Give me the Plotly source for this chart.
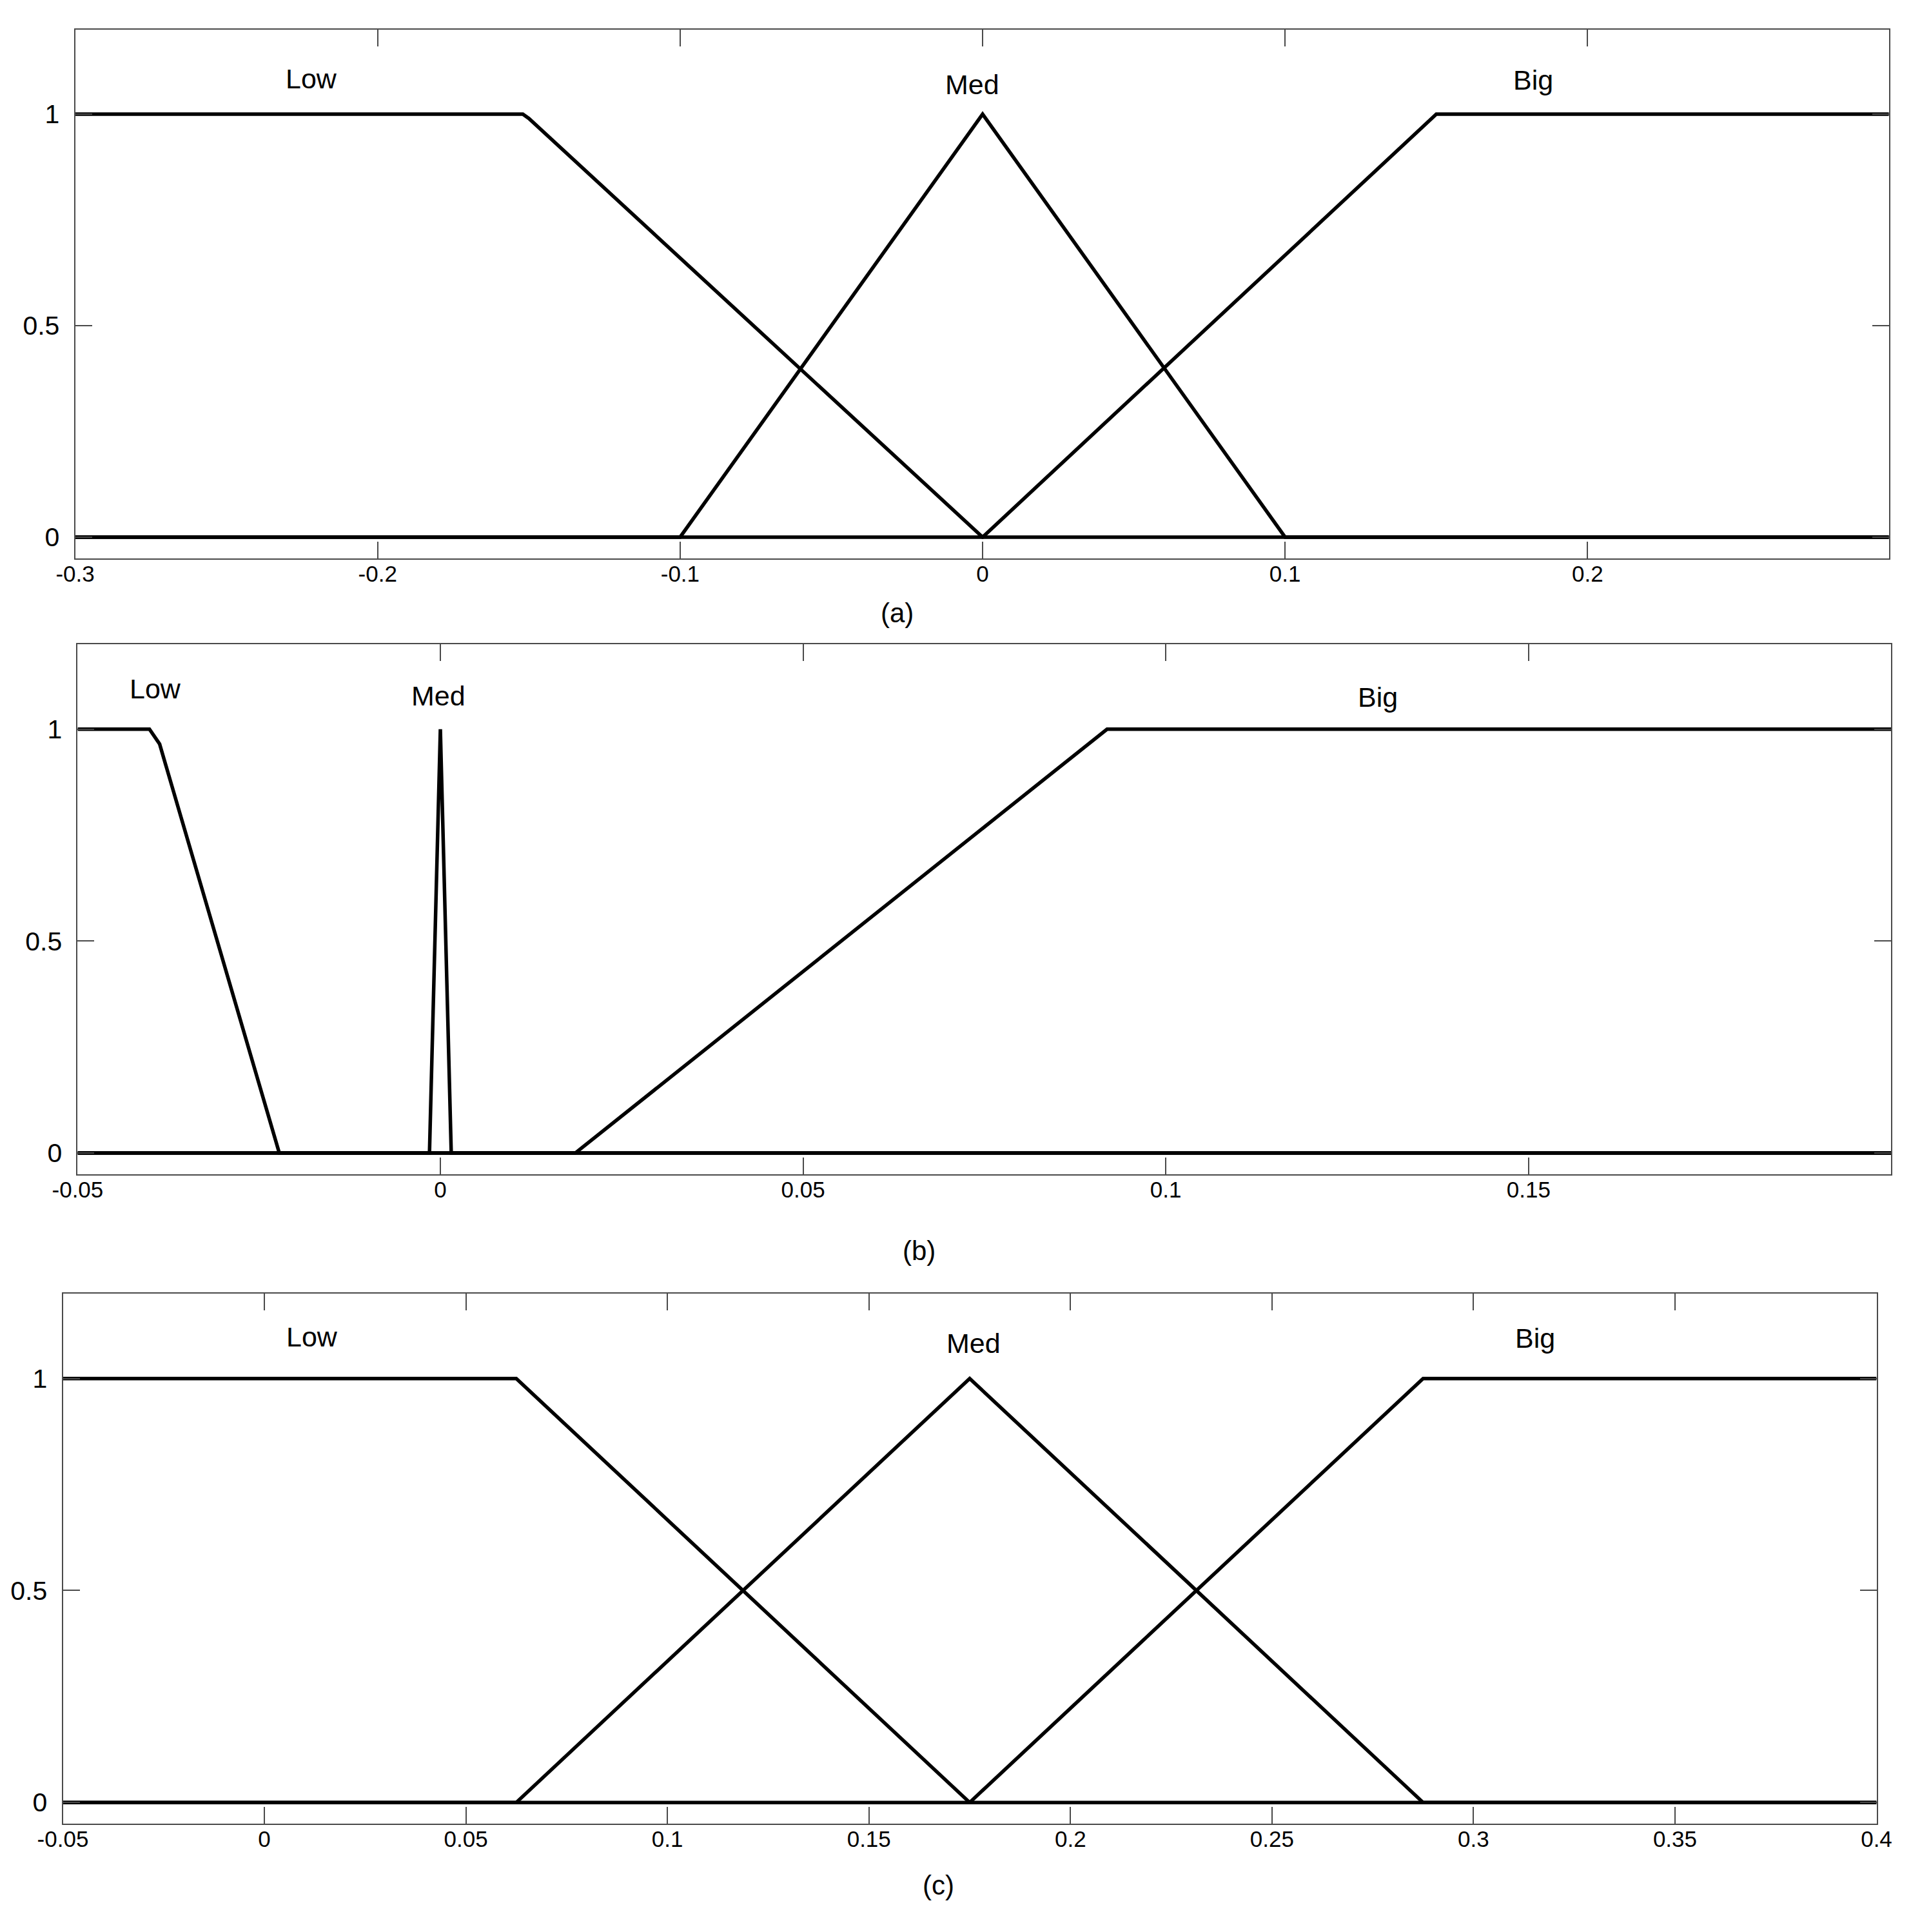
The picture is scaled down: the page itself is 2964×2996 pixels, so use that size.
import plotly.graph_objects as go

# membership functions, panel (a)
a_low_x = [-0.3, -0.152, -0.15, 0.0, 0.3]
a_low_y = [1, 1, 0.99, 0, 0]
a_med_x = [-0.3, -0.1, 0.0, 0.1, 0.3]
a_med_y = [0, 0, 1, 0, 0]
a_big_x = [-0.3, 0.0, 0.15, 0.3]
a_big_y = [0, 0, 1, 1]

# panel (b)
b_low_x = [-0.05, -0.0401, -0.0387, -0.0222, 0.2]
b_low_y = [1, 1, 0.965, 0, 0]
b_med_x = [-0.05, -0.0015, 0.0, 0.0015, 0.2]
b_med_y = [0, 0, 1, 0, 0]
b_big_x = [-0.05, 0.0186, 0.0919, 0.2]
b_big_y = [0, 0, 1, 1]

# panel (c)
c_low_x = [-0.05, 0.0625, 0.175, 0.4]
c_low_y = [1, 1, 0, 0]
c_med_x = [-0.05, 0.0625, 0.175, 0.2875, 0.4]
c_med_y = [0, 0, 1, 0, 0]
c_big_x = [-0.05, 0.175, 0.2875, 0.4]
c_big_y = [0, 0, 1, 1]

# tick labels
a_ticks = [-0.3, -0.2, -0.1, 0, 0.1, 0.2]
a_ticktext = ["-0.3", "-0.2", "-0.1", "0", "0.1", "0.2"]
b_ticks = [-0.05, 0, 0.05, 0.1, 0.15]
b_ticktext = ["-0.05", "0", "0.05", "0.1", "0.15"]
c_ticks = [-0.05, 0, 0.05, 0.1, 0.15, 0.2, 0.25, 0.3, 0.35, 0.4]
c_ticktext = ["-0.05", "0", "0.05", "0.1", "0.15", "0.2", "0.25", "0.3", "0.35", "0.4"]
y_ticks = [0, 0.5, 1]
y_ticktext = ["0", "0.5", "1"]

mf_names = ["Low", "Med", "Big"]
# label anchor points (data coords) for each panel
a_lab_x = [-0.222, -0.0035, 0.182]
a_lab_y = [1.084, 1.07, 1.081]
b_lab_x = [-0.0393, -0.0003, 0.1292]
b_lab_y = [1.096, 1.078, 1.075]
c_lab_x = [0.0118, 0.1759, 0.3153]
c_lab_y = [1.099, 1.084, 1.096]

captions = ["(a)", "(b)", "(c)"]

FONT = "Liberation Sans, Arial, sans-serif"
FRAME = "#4a4a4a"

# page body adds an 8px margin, so the figure is a bit smaller than the window
W, H = 2948, 2980

fig = go.Figure()

panels = [
    ("x", "y", [(a_low_x, a_low_y), (a_med_x, a_med_y), (a_big_x, a_big_y)]),
    ("x2", "y2", [(b_low_x, b_low_y), (b_med_x, b_med_y), (b_big_x, b_big_y)]),
    ("x3", "y3", [(c_low_x, c_low_y), (c_med_x, c_med_y), (c_big_x, c_big_y)]),
]
for xa, ya, curves in panels:
    for xs, ys in curves:
        fig.add_trace(go.Scatter(x=xs, y=ys, mode="lines", xaxis=xa, yaxis=ya,
                                 line=dict(color="black", width=5.5), showlegend=False,
                                 hoverinfo="skip"))

labels = [("x", "y", a_lab_x, a_lab_y), ("x2", "y2", b_lab_x, b_lab_y), ("x3", "y3", c_lab_x, c_lab_y)]
for xa, ya, lx, ly in labels:
    for name, x, y in zip(mf_names, lx, ly):
        fig.add_annotation(x=x, y=y, xref=xa, yref=ya, text=name, showarrow=False,
                           xanchor="center", yanchor="middle",
                           font=dict(family=FONT, size=43, color="black"))

cap_pos = [(0.46947, 0.68389), (0.48087, 0.35188), (0.49117, 0.02174)]
for cap, (cx, cy) in zip(captions, cap_pos):
    fig.add_annotation(x=cx, y=cy, xref="paper", yref="paper", text=cap, showarrow=False,
                       xanchor="center", yanchor="middle",
                       font=dict(family=FONT, size=42, color="black"))


def xaxis(domain, rng, vals, text, anchor):
    return dict(domain=domain, range=rng, tickvals=vals, ticktext=text, anchor=anchor,
                automargin=False, showgrid=False, zeroline=False, showline=True, mirror="ticks",
                linecolor=FRAME, linewidth=2, ticks="inside", ticklen=26, tickwidth=2,
                tickcolor=FRAME, ticklabelstandoff=-8,
                tickfont=dict(family=FONT, size=35, color="black"))


def yaxis(domain, anchor):
    return dict(domain=domain, range=[-0.05, 1.2], tickvals=y_ticks, ticktext=y_ticktext,
                anchor=anchor, automargin=False, showgrid=False, zeroline=False, showline=True,
                mirror="ticks", linecolor=FRAME, linewidth=2, ticks="inside", ticklen=26,
                tickwidth=2, tickcolor=FRAME, ticklabelstandoff=14,
                tickfont=dict(family=FONT, size=41, color="black"))


fig.update_layout(
    width=W, height=H,
    margin=dict(l=0, r=0, t=0, b=0, autoexpand=False),
    paper_bgcolor="white", plot_bgcolor="white",
    xaxis=xaxis([0.03684, 0.99104], [-0.3, 0.2996], a_ticks, a_ticktext, "y"),
    yaxis=yaxis([0.71218, 0.98728], "x"),
    xaxis2=xaxis([0.03813, 0.99233], [-0.05, 0.2], b_ticks, b_ticktext, "y2"),
    yaxis2=yaxis([0.39164, 0.66735], "x2"),
    xaxis3=xaxis([0.03036, 0.98457], [-0.05, 0.4], c_ticks, c_ticktext, "y3"),
    yaxis3=yaxis([0.05369, 0.32943], "x3"),
)

fig.write_html("out.html")
